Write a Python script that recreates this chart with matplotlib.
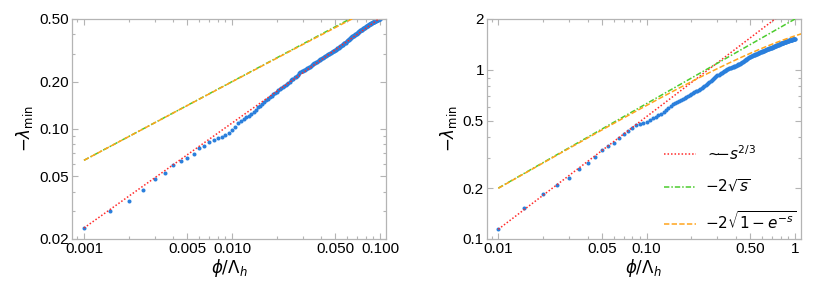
import numpy as np
import matplotlib.pyplot as plt
from matplotlib.ticker import FixedLocator, FixedFormatter, LogLocator, NullFormatter

plt.rcParams['font.family'] = ['Liberation Sans', 'DejaVu Sans']
plt.rcParams['mathtext.fontset'] = 'dejavusans'

# ---- data ----
# left panel: samples at phi/Lambda_h = 0.0005 * n, n = 2..200
phi_left = np.arange(2, 201) * 0.0005
lam_left = [
    0.0235, 0.0303, 0.0350, 0.0410, 0.0478, 0.0522, 0.0587, 0.0626, 0.0658,
    0.0694, 0.0757, 0.0780, 0.0830, 0.0856, 0.0877, 0.0892, 0.0912, 0.0945, 0.0980,
    0.1030, 0.1090, 0.1125, 0.1160, 0.1185, 0.1210, 0.1240, 0.1290, 0.1330, 0.1370,
    0.1410, 0.1450, 0.1490, 0.1525, 0.1560, 0.1595, 0.1630, 0.1660, 0.1695, 0.1725,
    0.1760, 0.1785, 0.1824, 0.1852, 0.1889, 0.1908, 0.1945, 0.1973, 0.2001, 0.2039,
    0.2066, 0.2092, 0.2129, 0.2155, 0.2182, 0.2219, 0.2257, 0.2295, 0.2322, 0.2348,
    0.2362, 0.2388, 0.2413, 0.2438, 0.2452, 0.2477, 0.2490, 0.2515, 0.2552, 0.2577,
    0.2589, 0.2613, 0.2637, 0.2660, 0.2684, 0.2721, 0.2732, 0.2756, 0.2780, 0.2790,
    0.2813, 0.2836, 0.2872, 0.2881, 0.2904, 0.2927, 0.2935, 0.2958, 0.2980, 0.3003,
    0.3010, 0.3032, 0.3053, 0.3090, 0.3097, 0.3119, 0.3125, 0.3146, 0.3168, 0.3190,
    0.3195, 0.3215, 0.3252, 0.3273, 0.3278, 0.3299, 0.3336, 0.3357, 0.3378, 0.3399,
    0.3437, 0.3440, 0.3460, 0.3498, 0.3518, 0.3538, 0.3541, 0.3579, 0.3600, 0.3620,
    0.3658, 0.3678, 0.3698, 0.3718, 0.3756, 0.3776, 0.3796, 0.3816, 0.3836, 0.3875,
    0.3895, 0.3895, 0.3915, 0.3954, 0.3973, 0.3993, 0.4013, 0.4013, 0.4032, 0.4052,
    0.4091, 0.4110, 0.4129, 0.4148, 0.4167, 0.4207, 0.4226, 0.4246, 0.4244, 0.4263,
    0.4282, 0.4301, 0.4341, 0.4359, 0.4378, 0.4397, 0.4394, 0.4413, 0.4432, 0.4451,
    0.4491, 0.4509, 0.4528, 0.4546, 0.4542, 0.4561, 0.4579, 0.4598, 0.4616, 0.4634,
    0.4652, 0.4647, 0.4665, 0.4706, 0.4724, 0.4742, 0.4737, 0.4755, 0.4773, 0.4791,
    0.4785, 0.4802, 0.4820, 0.4837, 0.4855, 0.4848, 0.4865, 0.4883, 0.4900, 0.4918,
    0.4935, 0.4927, 0.4944, 0.4961, 0.4978, 0.4970, 0.4987, 0.4979, 0.4996, 0.5013,
]

# right panel: samples at phi/Lambda_h = 0.005 * n, n = 2..200
phi_right = np.arange(2, 201) * 0.005
lam_right = [
    0.114, 0.153, 0.184, 0.210, 0.231, 0.258, 0.282, 0.306, 0.335,
    0.353, 0.371, 0.394, 0.418, 0.435, 0.452, 0.472, 0.480, 0.487, 0.495,
    0.508, 0.518, 0.528, 0.540, 0.552, 0.565, 0.578, 0.592, 0.608, 0.625,
    0.638, 0.650, 0.659, 0.668, 0.677, 0.686, 0.694, 0.702, 0.711, 0.720,
    0.729, 0.737, 0.746, 0.755, 0.765, 0.775, 0.785, 0.795, 0.806, 0.817,
    0.829, 0.840, 0.851, 0.862, 0.874, 0.885, 0.896, 0.908, 0.919, 0.930,
    0.939, 0.948, 0.957, 0.965, 0.973, 0.980, 0.988, 0.995, 1.001, 1.008,
    1.014, 1.020, 1.025, 1.030, 1.035, 1.040, 1.045, 1.050, 1.055, 1.060,
    1.066, 1.072, 1.079, 1.085, 1.091, 1.098, 1.104, 1.110, 1.117, 1.125,
    1.132, 1.140, 1.148, 1.155, 1.163, 1.170, 1.178, 1.185, 1.193, 1.200,
    1.205, 1.209, 1.214, 1.218, 1.223, 1.227, 1.232, 1.236, 1.241, 1.245,
    1.249, 1.253, 1.257, 1.261, 1.265, 1.269, 1.273, 1.277, 1.281, 1.285,
    1.289, 1.293, 1.297, 1.301, 1.305, 1.309, 1.313, 1.317, 1.321, 1.325,
    1.328, 1.332, 1.335, 1.339, 1.342, 1.346, 1.349, 1.353, 1.356, 1.360,
    1.363, 1.367, 1.370, 1.374, 1.377, 1.381, 1.384, 1.388, 1.391, 1.395,
    1.398, 1.402, 1.405, 1.409, 1.412, 1.416, 1.419, 1.423, 1.426, 1.430,
    1.433, 1.436, 1.439, 1.442, 1.445, 1.448, 1.451, 1.454, 1.457, 1.460,
    1.463, 1.466, 1.469, 1.472, 1.475, 1.478, 1.481, 1.484, 1.487, 1.490,
    1.492, 1.494, 1.496, 1.498, 1.500, 1.502, 1.504, 1.506, 1.508, 1.510,
    1.512, 1.514, 1.516, 1.518, 1.520, 1.522, 1.524, 1.526, 1.528, 1.530,
]

# prefactor of the ~ s^(2/3) guide line in each panel
coef_left = 2.35
coef_right = 2.46

xlim_left = (0.00083, 0.1097)
ylim_left = (0.02, 0.5)
xticks_left = [0.001, 0.005, 0.01, 0.05, 0.1]
xlabels_left = ["0.001", "0.005", "0.010", "0.050", "0.100"]
yticks_left = [0.02, 0.05, 0.1, 0.2, 0.5]
ylabels_left = ["0.02", "0.05", "0.10", "0.20", "0.50"]

xlim_right = (0.00835, 1.092)
ylim_right = (0.1, 2.0)
xticks_right = [0.01, 0.05, 0.1, 0.5, 1.0]
xlabels_right = ["0.01", "0.05", "0.10", "0.50", "1"]
yticks_right = [0.1, 0.2, 0.5, 1.0, 2.0]
ylabels_right = ["0.1", "0.2", "0.5", "1", "2"]

blue = "#2a7fdc"
red = "#ff2a2a"
green = "#4ccc2e"
orange = "#ffa41c"
frame = "#b4b4b4"

fig = plt.figure(figsize=(8.3, 2.92), dpi=100)
ax_l = fig.add_axes([72 / 830, 53 / 292, 314 / 830, 220 / 292])
ax_r = fig.add_axes([486.7 / 830, 53 / 292, 314 / 830, 220 / 292])


def draw_panel(ax, phi, lam, coef, s_range, xlim, ylim, xt, xtl, yt, ytl):
    ax.plot(phi, lam, "o", ms=2.9, color=blue, mec="none", zorder=2)
    s = np.geomspace(s_range[0], s_range[1], 600)
    l_red, = ax.plot(s, coef * s ** (2 / 3), color=red, lw=1.1,
                     ls=(0, (1, 1.3)), zorder=3,
                     label=r"$\sim\!\!\!{-}s^{2/3}$")
    l_green, = ax.plot(s, 2 * np.sqrt(s), color=green, lw=1.1,
                       ls=(0, (3.5, 1.3, 1, 1.3)), zorder=3, label=r"$-2\sqrt{s}$")
    l_orange, = ax.plot(s, 2 * np.sqrt(1 - np.exp(-s)), color=orange, lw=1.1,
                        ls=(0, (3.5, 1.5)), zorder=4, label=r"$-2\sqrt{1-e^{-s}}$")
    ax.set_xscale("log")
    ax.set_yscale("log")
    ax.set_xlim(*xlim)
    ax.set_ylim(*ylim)
    ax.xaxis.set_major_locator(FixedLocator(xt))
    ax.xaxis.set_major_formatter(FixedFormatter(xtl))
    ax.yaxis.set_major_locator(FixedLocator(yt))
    ax.yaxis.set_major_formatter(FixedFormatter(ytl))
    for axis in (ax.xaxis, ax.yaxis):
        axis.set_minor_locator(LogLocator(base=10, subs=np.arange(2, 10)))
        axis.set_minor_formatter(NullFormatter())
    ax.tick_params(which="both", direction="in", top=True, right=True,
                   color=frame, width=0.8, labelsize=11, pad=2)
    ax.tick_params(which="major", length=4.5)
    ax.tick_params(which="minor", length=2.5)
    for sp in ax.spines.values():
        sp.set_color(frame)
        sp.set_linewidth(0.9)
    ax.set_xlabel(r"$\phi/\Lambda_h$", fontsize=12, labelpad=1)
    ax.set_ylabel(r"$-\lambda_{\rm min}$", fontsize=12, labelpad=3)
    return [l_red, l_green, l_orange]


draw_panel(ax_l, phi_left, lam_left, coef_left, (0.001, 0.11),
           xlim_left, ylim_left, xticks_left, xlabels_left, yticks_left, ylabels_left)
handles = draw_panel(ax_r, phi_right, lam_right, coef_right, (0.01, 1.1),
                     xlim_right, ylim_right, xticks_right, xlabels_right,
                     yticks_right, ylabels_right)

ax_r.legend(handles=handles, loc="upper left", bbox_to_anchor=(0.545, 0.46),
            frameon=False, fontsize=11, handlelength=2.1, handletextpad=0.6,
            labelspacing=1.0, borderaxespad=0)

fig.savefig("out.png", dpi=100)
